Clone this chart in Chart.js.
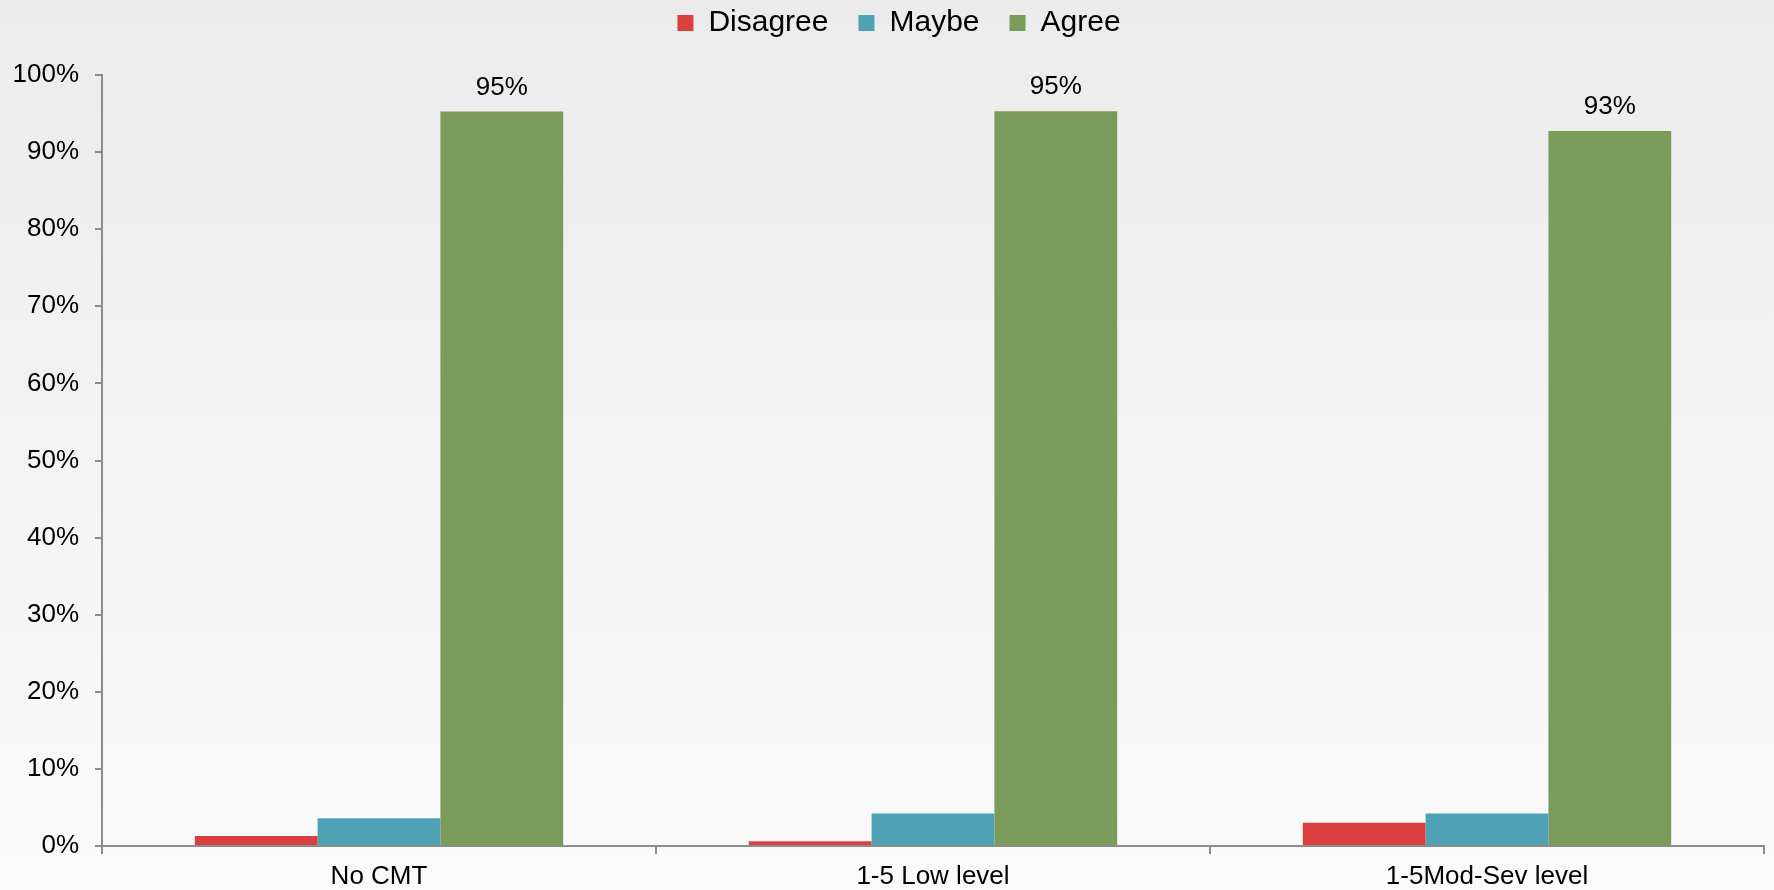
<!DOCTYPE html>
<html>
<head>
<meta charset="utf-8">
<script src="https://cdn.jsdelivr.net/npm/chart.js@4.4.1/dist/chart.umd.min.js"></script>
<style>
  html, body { margin: 0; padding: 0; }
  body { width: 1774px; height: 890px; background: linear-gradient(to bottom, #ebebeb 0%, #f3f3f3 50%, #fafafa 100%); overflow: hidden; }
  #wrap { position: relative; width: 1774px; height: 890px; }
</style>
</head>
<body>
<div id="wrap"><canvas id="c"></canvas></div>
<script>
const categories = ['No CMT', '1-5 Low level', '1-5Mod-Sev level'];
const seriesNames = ['Disagree', 'Maybe', 'Agree'];
const disagree = [1.3, 0.6, 3.0];
const maybe = [3.6, 4.2, 4.2];
const agree = [95.25, 95.3, 92.75];
const seriesColors = ['#db4040', '#4fa1b6', '#7a9b5a'];

const FONT = '"Liberation Sans", Arial, sans-serif';
const AXIS = '#8c8c8c';
const LAYOUT_TOP = -22;
const PLOT_TOP = 75;
const LEGEND_SHIFT_X = 17;

const agreeLabels = {
  id: 'agreeLabels',
  afterDatasetsDraw(chart) {
    const ctx = chart.ctx;
    const meta = chart.getDatasetMeta(2);
    ctx.save();
    ctx.font = '26px ' + FONT;
    ctx.fillStyle = '#000';
    ctx.textAlign = 'center';
    ctx.textBaseline = 'alphabetic';
    meta.data.forEach((bar, i) => {
      ctx.fillText(Math.round(agree[i]) + '%', bar.x, bar.y - 17);
    });
    ctx.restore();
  }
};

const legendHeight = {
  id: 'legendHeight',
  afterInit(chart) {
    const lg = chart.legend;
    if (!lg) return;
    const orig = lg.fit.bind(lg);
    lg.fit = function () { orig(); this.height = PLOT_TOP - LAYOUT_TOP; };
  },
  afterLayout(chart) {
    const lg = chart.legend;
    if (!lg) return;
    lg.left += LEGEND_SHIFT_X;
    lg.right += LEGEND_SHIFT_X;
  }
};

new Chart(document.getElementById('c'), {
  type: 'bar',
  data: {
    labels: categories,
    datasets: [
      { label: seriesNames[0], data: disagree, backgroundColor: seriesColors[0] },
      { label: seriesNames[1], data: maybe, backgroundColor: seriesColors[1] },
      { label: seriesNames[2], data: agree, backgroundColor: seriesColors[2] }
    ]
  },
  options: {
    responsive: true,
    maintainAspectRatio: false,
    animation: false,
    datasets: { bar: { categoryPercentage: 0.665, barPercentage: 1.0, borderWidth: 0 } },
    layout: { padding: { left: 0, right: 10, top: LAYOUT_TOP, bottom: 0 } },
    plugins: {
      tooltip: { enabled: false },
      legend: {
        position: 'top',
        labels: {
          color: '#000',
          font: { family: FONT, size: 30 },
          boxWidth: 16,
          boxHeight: 16,
          padding: 30
        }
      }
    },
    scales: {
      x: {
        grid: { display: true, drawOnChartArea: false, offset: true, color: AXIS, tickLength: 8, lineWidth: 2 },
        border: { display: true, color: AXIS, width: 2 },
        ticks: { color: '#000', font: { family: FONT, size: 26 }, padding: 7, maxRotation: 0 },
        afterFit(scale) { scale.height = 44; }
      },
      y: {
        min: 0, max: 100,
        grid: { display: true, drawOnChartArea: false, color: AXIS, tickLength: 7, lineWidth: 2 },
        border: { display: true, color: AXIS, width: 2 },
        ticks: { stepSize: 10, color: '#000', font: { family: FONT, size: 26 }, padding: 16, callback: v => v + '%' },
        afterFit(scale) { scale.width = 102; }
      }
    }
  },
  plugins: [agreeLabels, legendHeight]
});
</script>
</body>
</html>
